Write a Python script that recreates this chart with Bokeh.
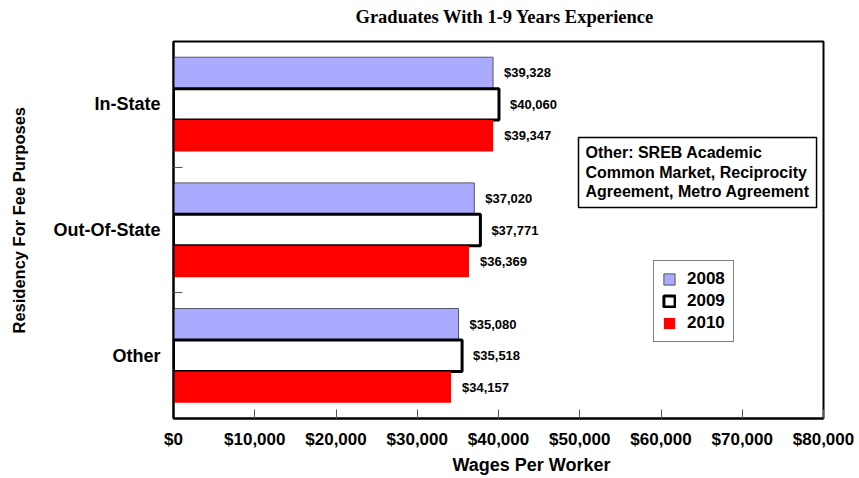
from bokeh.plotting import figure
from bokeh.models import (Range1d, FixedTicker, NumeralTickFormatter, Label,
                          ColumnDataSource, Legend, LegendItem, Title)
from bokeh.core.properties import value
from bokeh.embed import file_html
from bokeh.resources import INLINE

# ---- data ----
categories = ["In-State", "Out-Of-State", "Other"]
years = ["2008", "2009", "2010"]
wages_2008 = [39328, 37020, 35080]
wages_2009 = [40060, 37771, 35518]
wages_2010 = [39347, 36369, 34157]
x_ticks = [0, 10000, 20000, 30000, 40000, 50000, 60000, 70000, 80000]

series = [wages_2008, wages_2009, wages_2010]
n = len(categories)
centers = [n - i - 0.5 for i in range(n)]

SANS = "Liberation Sans"
SERIF = "Liberation Serif"

p = figure(width=859, height=478, output_backend="svg", toolbar_location=None,
           x_range=Range1d(0, 80000), y_range=Range1d(0, n),
           min_border_left=173, min_border_right=36, min_border_top=41,
           min_border_bottom=60)
p.title = None
p.xgrid.visible = False
p.ygrid.visible = False
p.outline_line_color = "black"
p.outline_line_width = 2
p.background_fill_color = "white"
p.border_fill_color = "white"

styles = [
    dict(fill_color="#AAAAFF", line_color="#555566", line_width=1),
    dict(fill_color="white", line_color="black", line_width=3),
    dict(fill_color="#FF0000", line_color=None, line_width=0),
]
offsets = [0.25, 0.0, -0.25]
bar_h = 0.25

items = []
for j, (vals, yr) in enumerate(zip(series, years)):
    ys = [c + offsets[j] for c in centers]
    src = ColumnDataSource(dict(y=ys, right=vals,
                                lbl=["${:,}".format(v) for v in vals]))
    r = p.hbar(y="y", right="right", left=0, height=bar_h, source=src, **styles[j])
    p.text(x="right", y="y", text="lbl", source=src, x_offset=11,
           text_baseline="middle", text_align="left",
           text_font=value(SANS), text_font_style="bold",
           text_font_size="13px", text_color="black")
    items.append(LegendItem(label=yr, renderers=[r]))

# x axis
xa = p.xaxis[0]
xa.ticker = FixedTicker(ticks=x_ticks)
xa.formatter = NumeralTickFormatter(format="$0,0")
xa.major_label_text_font = SANS
xa.major_label_text_font_style = "bold"
xa.major_label_text_font_size = "17px"
xa.major_label_text_color = "black"
xa.major_label_standoff = 11
xa.major_tick_in = 9
xa.major_tick_out = 0
xa.major_tick_line_color = "#555555"
xa.minor_tick_line_color = None
xa.axis_line_color = "black"
xa.axis_line_width = 2

# y axis
ya = p.yaxis[0]
ya.ticker = FixedTicker(ticks=centers, minor_ticks=[1, 2])
ya.major_label_overrides = {c: cat for c, cat in zip(centers, categories)}
ya.major_label_text_font = SANS
ya.major_label_text_font_style = "bold"
ya.major_label_text_font_size = "18px"
ya.major_label_text_color = "black"
ya.major_label_standoff = 13
ya.major_tick_in = 0
ya.major_tick_out = 0
ya.minor_tick_in = 9
ya.minor_tick_out = 0
ya.minor_tick_line_color = "#555555"
ya.axis_line_color = "black"
ya.axis_line_width = 2

# legend
legend = Legend(items=items, location=(480, 76), orientation="vertical",
                label_text_font=SANS, label_text_font_style="bold",
                label_text_font_size="17px", label_text_color="black",
                glyph_width=14, glyph_height=14, label_standoff=11,
                spacing=2, padding=8, margin=0,
                border_line_color="black", border_line_width=1.5,
                background_fill_color="white", background_fill_alpha=1)
p.add_layout(legend, "center")

# note box
note = Label(x=405, y=211, x_units="screen", y_units="screen",
             text="Other: SREB Academic\nCommon Market, Reciprocity\nAgreement, Metro Agreement",
             text_font=SANS, text_font_style="bold", text_font_size="16px",
             text_color="black", text_align="left", text_baseline="bottom",
             text_line_height=1.15, padding=7,
             border_line_color="black", border_line_width=1.5,
             background_fill_color="white")
p.add_layout(note)

# subtitle (spacer keeps it clear of the frame)
top_spacer = Title(text=" ", standoff=12, text_font_size="1px")
p.add_layout(top_spacer, "above")
sub = Title(text="Graduates With 1-9 Years Experience", align="left",
            offset=182, standoff=0, vertical_align="bottom",
            text_font=SERIF, text_font_style="bold",
            text_font_size="18.5px", text_color="black")
p.add_layout(sub, "above")

# axis titles
xt = Title(text="Wages Per Worker", align="left", offset=279, standoff=2,
           text_font=SANS, text_font_style="bold", text_font_size="18px",
           text_color="black")
p.add_layout(xt, "below")
spacer = Title(text=" ", standoff=18, text_font_size="1px")
p.add_layout(spacer, "left")
yt = Title(text="Residency For Fee Purposes", align="left", offset=85,
           standoff=0, vertical_align="top", text_font=SANS,
           text_font_style="bold", text_font_size="16.5px", text_color="black")
p.add_layout(yt, "left")

open("out.html", "w").write(file_html(p, INLINE))
